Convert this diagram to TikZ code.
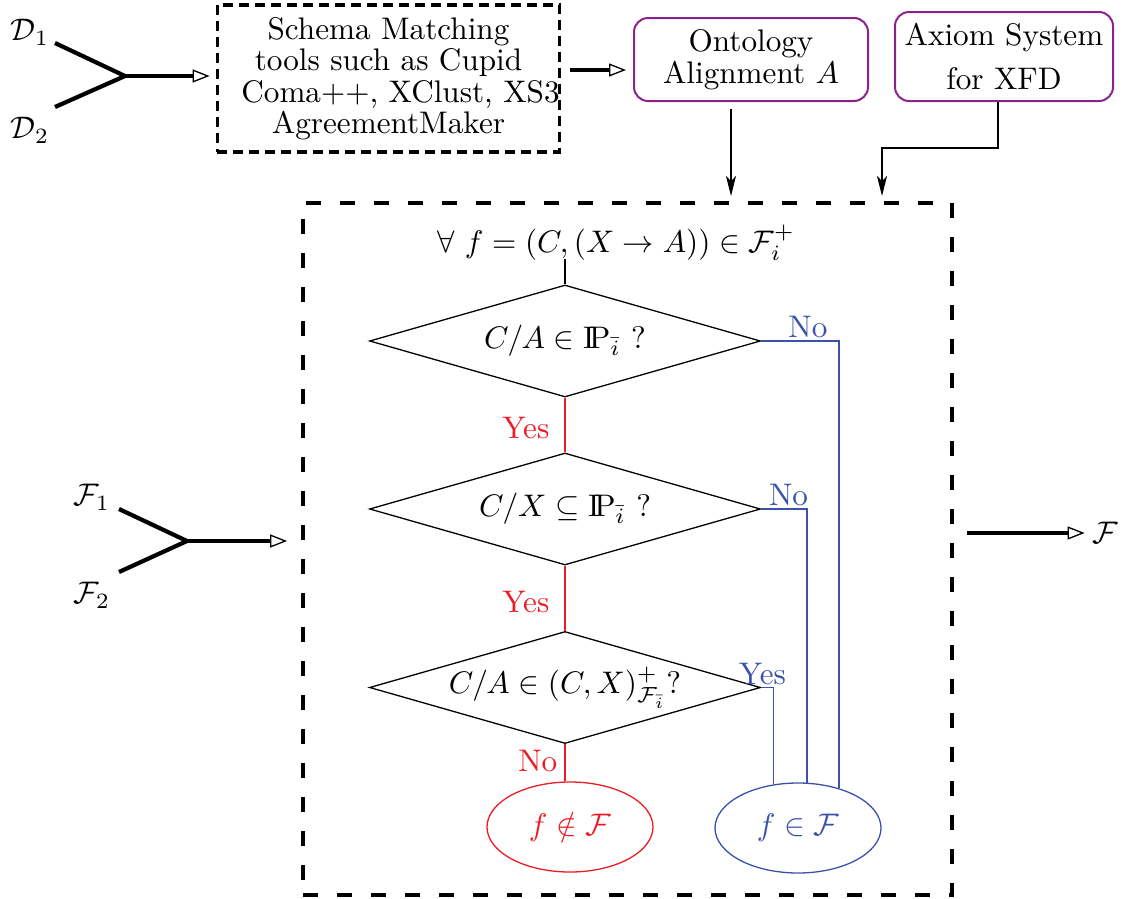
\documentclass[tikz,border=0pt]{standalone}
\usetikzlibrary{shapes.geometric,arrows.meta,calc}
\definecolor{flowred}{RGB}{237,28,36}
\definecolor{flowblue}{RGB}{58,82,170}
\definecolor{boxpurple}{RGB}{140,35,140}
\newcommand{\Pbar}{{\mathrm{I\!P}}_{\bar{i}}}
% one drawing unit; lengths below are given in these units
\newdimen\pxunit
\pxunit=0.3205pt
\begin{document}
\begin{tikzpicture}[x=\pxunit,y=-\pxunit,
  every node/.style={font=\fontsize{10}{10.1}\selectfont, inner sep=0pt},
  merge/.style={line width=4.2\pxunit},
  open tip/.style={-{Triangle[open,length=5.45pt,width=4.17pt,line width'=0.42pt]}},
  thin tip/.style={line width=1.3\pxunit,-{Stealth[length=6.4pt,width=3.2pt,inset=1.6pt]}},
  toolbox/.style={draw, line width=3.6\pxunit, dash pattern=on 10\pxunit off 6\pxunit},
  loopbox/.style={draw, line width=3.8\pxunit, dash pattern=on 15\pxunit off 19\pxunit},
  sourcebox/.style={draw=boxpurple, line width=2\pxunit, rounded corners=14\pxunit, align=center},
  test/.style={draw, diamond, aspect=3.49, line width=1.3\pxunit, minimum width=391\pxunit, minimum height=112\pxunit},
  flow/.style={line width=1.4\pxunit},
  redflow/.style={flow, draw=flowred},
  blueflow/.style={flow, draw=flowblue},
  redlabel/.style={text=flowred},
  bluelabel/.style={text=flowblue},
  outcome/.style={ellipse, line width=1.3\pxunit, minimum width=166\pxunit, minimum height=90\pxunit},
]
\useasboundingbox (0,0) rectangle (1128,899);

% data sources merged into the matching tools
\node (D1) at (30,32) {$\mathcal{D}_1$};
\node (D2) at (30,130) {$\mathcal{D}_2$};
\coordinate (d1 end) at (55,43);
\coordinate (d2 end) at (55,107);
\coordinate (dj) at (125,76);

\node[toolbox, minimum width=337\pxunit, minimum height=147\pxunit, align=center] (tools) at (388.5,78.5)
  {Schema Matching\\tools such as Cupid\\\hspace*{24\pxunit}Coma++, XClust, XS3\\AgreementMaker};

\draw[merge] (d1 end) -- (dj) -- (d2 end);
\draw[merge, open tip] (dj) -- ([xshift=-6\pxunit]dj -| tools.west);

% ontology alignment and axiom system
\node[sourcebox, minimum width=234\pxunit, minimum height=83\pxunit] (onto) at (751,59.5)
  {Ontology\\Alignment $A$};
\node[sourcebox, minimum width=218\pxunit, minimum height=89\pxunit] (axiom) at (1004,56.5)
  {Axiom System\\[12\pxunit]for XFD};

\coordinate (s2o) at (570,70);
\draw[merge, open tip] (s2o) -- ([xshift=-7\pxunit]s2o -| onto.west);

% checking loop
\node[loopbox, minimum width=649\pxunit, minimum height=692\pxunit] (loop) at (627.5,549) {};

\coordinate (onto in) at (731,196);
\coordinate (axiom in) at (882,196);
\draw[thin tip] ([xshift=-20\pxunit,yshift=-7\pxunit]onto.south) -- (onto in);
\draw[thin tip] ([xshift=-6\pxunit]axiom.south) |- ($(axiom in)+(0,-48)$) -- (axiom in);

\node (forall) at (616,243) {$\forall\ f = (C,(X\rightarrow A)) \in \mathcal{F}_i^+$};

\node[test] (q1) at (565,341) {$C/A \in \Pbar\ ?$};
\node[test] (q2) at (565,509) {$C/X \subseteq \Pbar\ ?$};
\node[test] (q3) at (565,687.5) {$C/A \in (C,X)^+_{\mathcal{F}_{\bar{i}}}?$};

\node[outcome, draw=flowred, text=flowred] (notin) at (570,827) {$f \notin \mathcal{F}$};
\node[outcome, draw=flowblue, text=flowblue] (isin) at (798,828) {$f \in \mathcal{F}$};

\draw[flow] (q1.north) -- ++(0,-25);
\draw[redflow] (q1.south) -- node[redlabel, pos=0.55, left=15\pxunit] {Yes} (q2.north);
\draw[redflow] (q2.south) -- node[redlabel, pos=0.55, left=15\pxunit] {Yes} (q3.north);
\draw[redflow] (q3.south) -- node[redlabel, pos=0.45, left=7\pxunit] {No} (q3.south |- notin.north);

\draw[blueflow] (q1.east) -| node[bluelabel, pos=0.3, above=2\pxunit] {No} (isin.44.6);
\draw[blueflow] (q2.east) -| node[bluelabel, pos=0.3, above=2\pxunit] {No} (isin.79.9);
\draw[blueflow] (q3.east) -| node[bluelabel, pos=0.05, above=2\pxunit] {Yes} (isin.119.1);

% functional dependencies in and out
\node (F1) at (92,497) {$\mathcal{F}_1$};
\node (F2) at (92,595) {$\mathcal{F}_2$};
\coordinate (f1 end) at (119,509);
\coordinate (f2 end) at (119,572);
\coordinate (fj) at (187,541);
\draw[merge] (f1 end) -- (fj) -- (f2 end);
\draw[merge, open tip] (fj) -- ([xshift=-14\pxunit]fj -| loop.west);

\node (F) at (1105,533) {$\mathcal{F}$};
\draw[merge, open tip] ([xshift=13\pxunit]F.west -| loop.east) -- ([xshift=-7\pxunit]F.west);
\end{tikzpicture}
\end{document}
